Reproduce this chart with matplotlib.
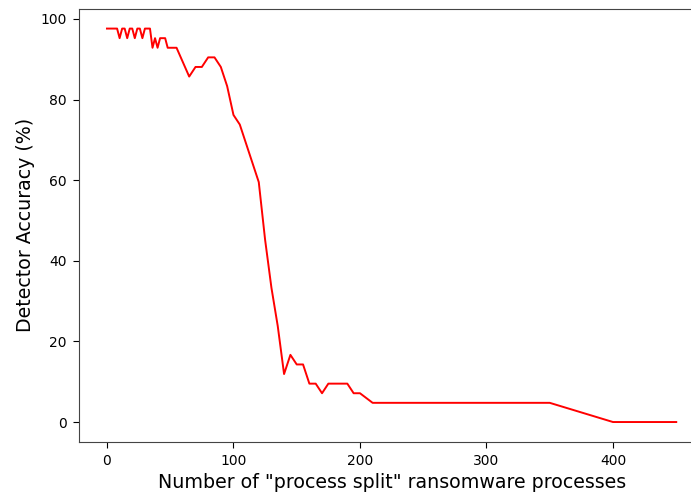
import numpy as np
from matplotlib import pyplot as plt

# accuracy values (they sit on steps of 1/42)
step = 100.0 / 42

n_procs = [0, 2, 4, 6, 8, 10, 12, 14, 16, 18, 20, 22, 24, 26, 28, 30, 32, 34, 36, 38,
           40, 42, 44, 46, 48, 50, 55, 60, 65, 70, 75, 80, 85, 90, 95, 100, 105, 110,
           115, 120, 125, 130, 135, 140, 145, 150, 155, 160, 165, 170, 175, 180, 185,
           190, 195, 200, 210, 350, 400, 450]
correct = [41, 41, 41, 41, 41, 40, 41, 41, 40, 41, 41, 40, 41, 41, 40, 41, 41, 41, 39, 40,
           39, 40, 40, 40, 39, 39, 39, 37.5, 36, 37, 37, 38, 38, 37, 35, 32, 31, 29,
           27, 25, 19, 14, 10, 5, 7, 6, 6, 4, 4, 3, 4, 4, 4,
           4, 3, 3, 2, 2, 0, 0]

accuracy = np.array(correct) * step

fig = plt.figure(figsize=(6.91, 4.92), dpi=100)
ax = fig.add_axes([78.5 / 691, 50.3 / 492, 626.2 / 691, 432.8 / 492])

ax.plot(n_procs, accuracy, color='red', linewidth=1.4)

ax.set_xticks([0, 100, 200, 300, 400])
ax.set_yticks([0, 20, 40, 60, 80, 100])
ax.tick_params(labelsize=10, length=4, pad=4.5)
for sp in ax.spines.values():
    sp.set_color('#444444')
ax.set_xlabel('Number of "process split" ransomware processes', fontsize=13.7)
ax.set_ylabel('Detector Accuracy (%)', fontsize=13.7)

fig.savefig('out.png', dpi=100)
